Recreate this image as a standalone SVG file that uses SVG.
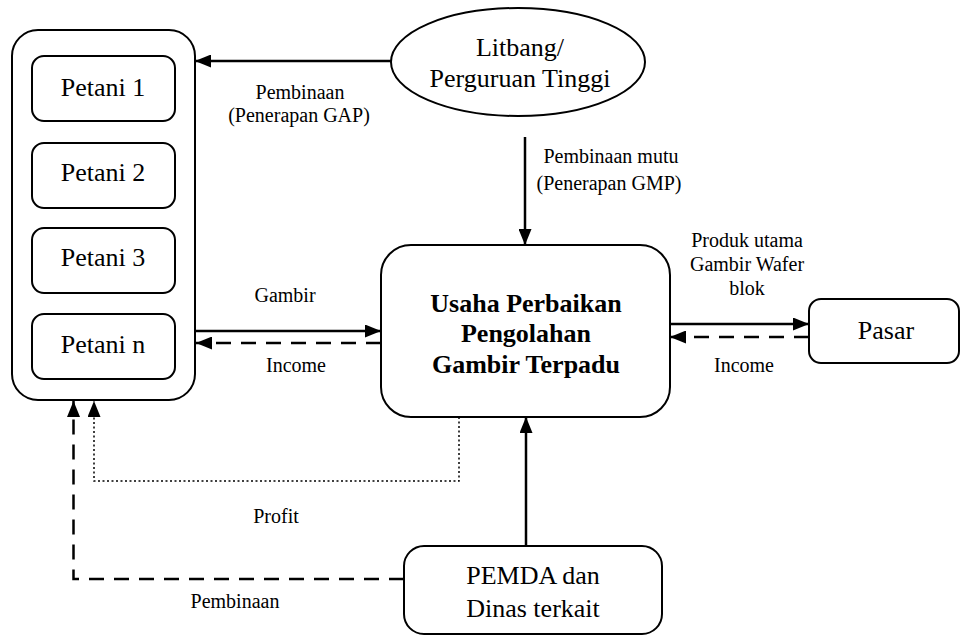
<svg xmlns="http://www.w3.org/2000/svg" width="963" height="636" viewBox="0 0 963 636">
<style>
.box{fill:#fff;stroke:#000;stroke-width:2}
text{font-family:'Liberation Serif','Times New Roman',Tinos,Times,'DejaVu Serif',serif;fill:#000;text-anchor:middle}
.t{font-size:26px}
.b{font-weight:bold}
.e{font-size:20px}
.c{fill:none;stroke:#000;stroke-width:2.5}
.d{stroke-dasharray:15 10}
.o{stroke-width:1.5;stroke-dasharray:2 2.5}
</style>
<defs>
<marker id="arr" viewBox="0 0 16 13" refX="16" refY="6.5" markerWidth="16" markerHeight="13" markerUnits="userSpaceOnUse" orient="auto">
<path d="M0,0 L16,6.5 L0,13 Z" fill="#000"/>
</marker>
</defs>
<rect width="963" height="636" fill="#fff"/>
<g id="petani-group">
<rect class="box" x="12" y="30" width="183" height="370" rx="26"/>
</g>
<g id="petani1"><rect class="box" x="32" y="56" width="143" height="65" rx="12"/><text class="t" x="103" y="96">Petani 1</text></g>
<g id="petani2"><rect class="box" x="32" y="143" width="143" height="65" rx="12"/><text class="t" x="103" y="181">Petani 2</text></g>
<g id="petani3"><rect class="box" x="32" y="228" width="143" height="65" rx="12"/><text class="t" x="103" y="266">Petani 3</text></g>
<g id="petanin"><rect class="box" x="32" y="314" width="143" height="65" rx="12"/><text class="t" x="103" y="353">Petani n</text></g>
<g id="litbang"><ellipse class="box" cx="518" cy="62" rx="127" ry="54"/><text class="t" x="520" y="56">Litbang/</text><text class="t" x="520" y="87">Perguruan Tinggi</text></g>
<g id="usaha"><rect class="box" x="381" y="245" width="289" height="172" rx="30"/><text class="t b" x="526" y="312">Usaha Perbaikan</text><text class="t b" x="526" y="342">Pengolahan</text><text class="t b" x="526" y="373">Gambir Terpadu</text></g>
<g id="pasar"><rect class="box" x="809" y="299" width="150" height="64" rx="12"/><text class="t" x="886" y="339">Pasar</text></g>
<g id="pemda"><rect class="box" x="404" y="546" width="258" height="88" rx="20"/><text class="t" x="533" y="584">PEMDA dan</text><text class="t" x="533" y="617">Dinas terkait</text></g>
<g id="connectors">
<line class="c" x1="391" y1="61" x2="195" y2="61" marker-end="url(#arr)"/>
<line class="c" x1="525" y1="137" x2="525" y2="245" marker-end="url(#arr)"/>
<line class="c" x1="195" y1="331" x2="381" y2="331" marker-end="url(#arr)"/>
<line class="c d" x1="381" y1="343" x2="196" y2="343" marker-end="url(#arr)"/>
<line class="c" x1="670" y1="324" x2="809" y2="324" marker-end="url(#arr)"/>
<line class="c d" x1="809" y1="337" x2="670" y2="337" marker-end="url(#arr)"/>
<line class="c" x1="526" y1="546" x2="526" y2="417" marker-end="url(#arr)"/>
<path class="c o" d="M459,417 V481 H94 V401" marker-end="url(#arr)"/>
<path class="c d" d="M404,579 H73.5 V401" marker-end="url(#arr)"/>
</g>
<g id="labels">
<text class="e" x="300" y="99">Pembinaan</text>
<text class="e" x="299" y="122">(Penerapan GAP)</text>
<text class="e" x="611" y="163">Pembinaan mutu</text>
<text class="e" x="609" y="190">(Penerapan GMP)</text>
<text class="e" x="747" y="247">Produk utama</text>
<text class="e" x="747" y="271">Gambir Wafer</text>
<text class="e" x="747" y="295">blok</text>
<text class="e" x="285" y="302">Gambir</text>
<text class="e" x="296" y="372">Income</text>
<text class="e" x="744" y="372">Income</text>
<text class="e" x="276" y="523">Profit</text>
<text class="e" x="235" y="608">Pembinaan</text>
</g>
</svg>
